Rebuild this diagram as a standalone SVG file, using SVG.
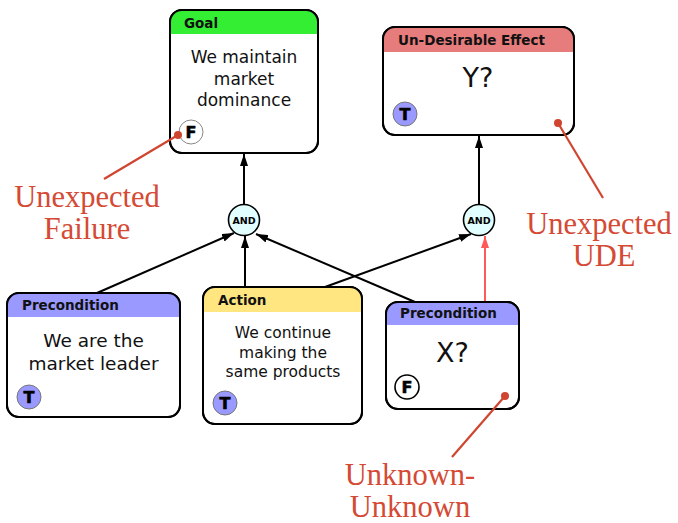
<svg xmlns="http://www.w3.org/2000/svg" width="678" height="523" viewBox="0 0 678 523">
<style>
.box{fill:#fff;stroke:#000;stroke-width:2}
.hdr{font-family:"DejaVu Sans",sans-serif;font-weight:bold;font-size:13.5px;fill:#111}
.body{font-family:"DejaVu Sans",sans-serif;fill:#111;text-anchor:middle}
.badge-t{fill:#9999ff;stroke:#777;stroke-width:1}
.badge-fg{fill:#fff;stroke:#888;stroke-width:1}
.badge-fb{fill:#fff;stroke:#000;stroke-width:1.6}
.bl{font-family:"DejaVu Sans",sans-serif;font-weight:900;font-size:16px;text-anchor:middle;fill:#000;stroke:#000;stroke-width:0.6}
.and{fill:#e2ffff;stroke:#000;stroke-width:1.6}
.andt{font-family:"DejaVu Sans",sans-serif;font-weight:bold;font-size:9.5px;text-anchor:middle;fill:#000}
.edge{stroke:#000;stroke-width:2;fill:none}
.ann{font-family:"Liberation Serif",serif;font-size:30.5px;fill:#d44a34;text-anchor:middle}
.annl{stroke:#d0452f;stroke-width:2.2}
</style>
<defs>
<marker id="ah" viewBox="0 0 12 8" refX="12" refY="4" markerWidth="12" markerHeight="8" orient="auto" markerUnits="userSpaceOnUse"><path d="M0,0 L12,4 L0,8 Z" fill="#000"/></marker>
<marker id="ahr" viewBox="0 0 12 8" refX="12" refY="4" markerWidth="12" markerHeight="8" orient="auto" markerUnits="userSpaceOnUse"><path d="M0,0 L12,4 L0,8 Z" fill="#ff5a5a"/></marker>
</defs>

<g id="connectors">
<line class="edge" x1="244" y1="204" x2="244" y2="154" marker-end="url(#ah)"/>
<line class="edge" x1="479" y1="204" x2="479" y2="136" marker-end="url(#ah)"/>
<line class="edge" x1="97" y1="293" x2="234" y2="233" marker-end="url(#ah)"/>
<line class="edge" x1="245" y1="287" x2="245" y2="236" marker-end="url(#ah)"/>
<line class="edge" x1="415" y1="302" x2="256" y2="234" marker-end="url(#ah)"/>
<line class="edge" x1="325" y1="287" x2="471" y2="234" marker-end="url(#ah)"/>
<line x1="485" y1="302" x2="485" y2="236" stroke="#ff5a5a" stroke-width="2" marker-end="url(#ahr)"/>
</g>

<g id="goal">
<rect class="box" x="170" y="10" width="148" height="143" rx="12"/>
<path d="M170,34 L170,22 A12,12 0 0 1 182,10 L306,10 A12,12 0 0 1 318,22 L318,34 Z" fill="#33ee33"/>
<rect x="170" y="10" width="148" height="143" rx="12" fill="none" stroke="#000" stroke-width="2"/>
<text class="hdr" x="184" y="28">Goal</text>
<text class="body" font-size="17" x="244" y="63">We maintain</text>
<text class="body" font-size="17" x="244" y="84.5">market</text>
<text class="body" font-size="17" x="244" y="106">dominance</text>
<circle class="badge-fg" cx="191" cy="132" r="12"/>
<text class="bl" x="191" y="138">F</text>
</g>

<g id="ude">
<rect class="box" x="383" y="27" width="191" height="108" rx="12"/>
<path d="M383,52 L383,39 A12,12 0 0 1 395,27 L562,27 A12,12 0 0 1 574,39 L574,52 Z" fill="#e67c7c"/>
<rect x="383" y="27" width="191" height="108" rx="12" fill="none" stroke="#000" stroke-width="2"/>
<text class="hdr" x="398" y="45">Un-Desirable Effect</text>
<text class="body" font-size="27" x="478" y="87">Y?</text>
<circle class="badge-t" cx="405" cy="114" r="12"/>
<text class="bl" x="405" y="120">T</text>
</g>

<g id="and1">
<circle class="and" cx="244" cy="220" r="15.5"/>
<text class="andt" x="244" y="223.5">AND</text>
</g>
<g id="and2">
<circle class="and" cx="479" cy="220" r="15.5"/>
<text class="andt" x="479" y="223.5">AND</text>
</g>

<g id="precondition1">
<rect class="box" x="7" y="293" width="173" height="124" rx="12"/>
<path d="M7,317 L7,305 A12,12 0 0 1 19,293 L168,293 A12,12 0 0 1 180,305 L180,317 Z" fill="#9999ff"/>
<rect x="7" y="293" width="173" height="124" rx="12" fill="none" stroke="#000" stroke-width="2"/>
<text class="hdr" x="22" y="310">Precondition</text>
<text class="body" font-size="18.5" x="93.5" y="347">We are the</text>
<text class="body" font-size="18.5" x="93.5" y="370">market leader</text>
<circle class="badge-t" cx="29" cy="397" r="12"/>
<text class="bl" x="29" y="403">T</text>
</g>

<g id="action">
<rect class="box" x="203" y="287" width="159" height="137" rx="12"/>
<path d="M203,312 L203,299 A12,12 0 0 1 215,287 L350,287 A12,12 0 0 1 362,299 L362,312 Z" fill="#ffe680"/>
<rect x="203" y="287" width="159" height="137" rx="12" fill="none" stroke="#000" stroke-width="2"/>
<text class="hdr" x="218" y="305">Action</text>
<text class="body" font-size="15.5" x="283" y="338">We continue</text>
<text class="body" font-size="15.5" x="283" y="357.5">making the</text>
<text class="body" font-size="15.5" x="283" y="377">same products</text>
<circle class="badge-t" cx="225" cy="403" r="12"/>
<text class="bl" x="225" y="409">T</text>
</g>

<g id="precondition2">
<rect class="box" x="386" y="302" width="133" height="107" rx="12"/>
<path d="M386,325 L386,314 A12,12 0 0 1 398,302 L507,302 A12,12 0 0 1 519,314 L519,325 Z" fill="#9999ff"/>
<rect x="386" y="302" width="133" height="107" rx="12" fill="none" stroke="#000" stroke-width="2"/>
<text class="hdr" x="400" y="318">Precondition</text>
<text class="body" font-size="27" x="452.5" y="362">X?</text>
<circle class="badge-fb" cx="407" cy="387" r="12"/>
<text class="bl" x="407" y="393">F</text>
</g>

<g id="annotations">
<line class="annl" x1="178" y1="135" x2="104" y2="179"/>
<circle cx="178" cy="135" r="4" fill="#d0452f"/>
<text class="ann" x="87" y="207">Unexpected</text>
<text class="ann" x="87" y="239">Failure</text>
<line class="annl" x1="558" y1="123" x2="603" y2="198"/>
<circle cx="558" cy="123" r="4" fill="#d0452f"/>
<text class="ann" x="599" y="234">Unexpected</text>
<text class="ann" x="604" y="266">UDE</text>
<line class="annl" x1="505" y1="396" x2="452" y2="457"/>
<circle cx="505" cy="396" r="4" fill="#d0452f"/>
<text class="ann" x="410" y="485">Unknown-</text>
<text class="ann" x="410" y="517">Unknown</text>
</g>
</svg>
